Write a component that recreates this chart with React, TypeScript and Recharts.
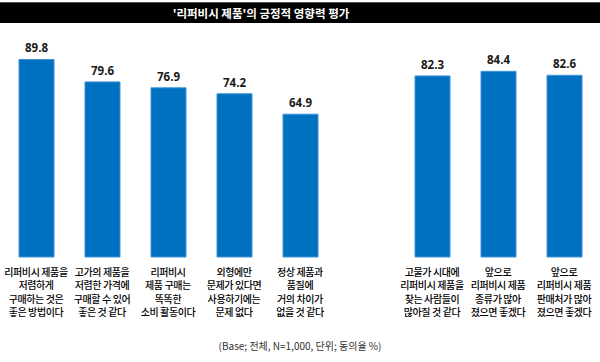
import React from 'react';
import { BarChart, Bar, XAxis, YAxis, LabelList } from 'recharts';

const titleText = "'리퍼비시 제품'의 긍정적 영향력 평가";
const footerText = '(Base; 전체, N=1,000, 단위; 동의율 %)';

const categoryKeys = ['c1', 'c2', 'c3', 'c4', 'c5', 'gap', 'c6', 'c7', 'c8'];
const categoryLines: string[][] = [
  ['리퍼비시 제품을', '저렴하게', '구매하는 것은', '좋은 방법이다'],
  ['고가의 제품을', '저렴한 가격에', '구매할 수 있어', '좋은 것 같다'],
  ['리퍼비시', '제품 구매는', '똑똑한', '소비 활동이다'],
  ['외형에만', '문제가 있다면', '사용하기에는', '문제 없다'],
  ['정상 제품과', '품질에', '거의 차이가', '없을 것 같다'],
  [],
  ['고물가 시대에', '리퍼비시 제품을', '찾는 사람들이', '많아질 것 같다'],
  ['앞으로', '리퍼비시 제품', '종류가 많아', '졌으면 좋겠다'],
  ['앞으로', '리퍼비시 제품', '판매처가 많아', '졌으면 좋겠다'],
];
const agreeValues: (number | null)[] = [89.8, 79.6, 76.9, 74.2, 64.9, null, 82.3, 84.4, 82.6];

const data = categoryKeys.map((k, i) => ({ key: k, value: agreeValues[i] }));

const KOR = "'Noto Sans CJK KR', 'Noto Sans', sans-serif";

const CategoryTick = (props: any) => {
  const { x, y, index } = props;
  const lines = categoryLines[index] || [];
  return (
    <g>
      {lines.map((ln, i) => (
        <text
          key={i}
          x={x}
          y={y + 10.5 + i * 13.6}
          textAnchor="middle"
          fontFamily={KOR}
          fontSize={10}
          fontWeight={500}
          letterSpacing={-0.4}
          fill="#000"
        >
          {ln}
        </text>
      ))}
    </g>
  );
};

export default function App() {
  return (
    <div style={{ position: 'absolute', left: 0, top: 0, width: 600, height: 362, background: '#fff' }}>
      <div
        style={{
          position: 'absolute',
          left: 0,
          top: 2,
          width: 600,
          height: 21,
          background: '#000',
          borderTop: '1px solid #555',
          boxSizing: 'border-box',
        }}
      />
      <div
        style={{
          position: 'absolute',
          left: 161,
          top: 3,
          width: 200,
          height: 20,
          lineHeight: '20px',
          textAlign: 'center',
          color: '#fff',
          fontFamily: KOR,
          fontWeight: 700,
          fontSize: 11.5,
          whiteSpace: 'nowrap',
        }}
      >
        {titleText}
      </div>
      <div style={{ position: 'absolute', left: 0, top: 0 }}>
        <BarChart
          width={600}
          height={362}
          data={data}
          margin={{ top: 37, right: 3, left: 3, bottom: 25 }}
          barSize={35}
        >
          <XAxis
            dataKey="key"
            axisLine={false}
            tickLine={false}
            height={80}
            interval={0}
            tick={<CategoryTick />}
          />
          <YAxis hide domain={[0, 100]} />
          <Bar dataKey="value" fill="#0070C0" stroke="#3f95d8" strokeWidth={1} isAnimationActive={false}>
            <LabelList
              dataKey="value"
              position="top"
              offset={7}
              style={{ fontFamily: "'Open Sans', sans-serif", fontWeight: 700, fontSize: 11.5, fill: '#1a1a1a' }}
            />
          </Bar>
        </BarChart>
      </div>
      <div
        style={{
          position: 'absolute',
          left: 0,
          top: 338,
          width: 600,
          textAlign: 'center',
          fontFamily: KOR,
          fontSize: 10,
          color: '#333',
          whiteSpace: 'nowrap',
        }}
      >
        {footerText}
      </div>
    </div>
  );
}
